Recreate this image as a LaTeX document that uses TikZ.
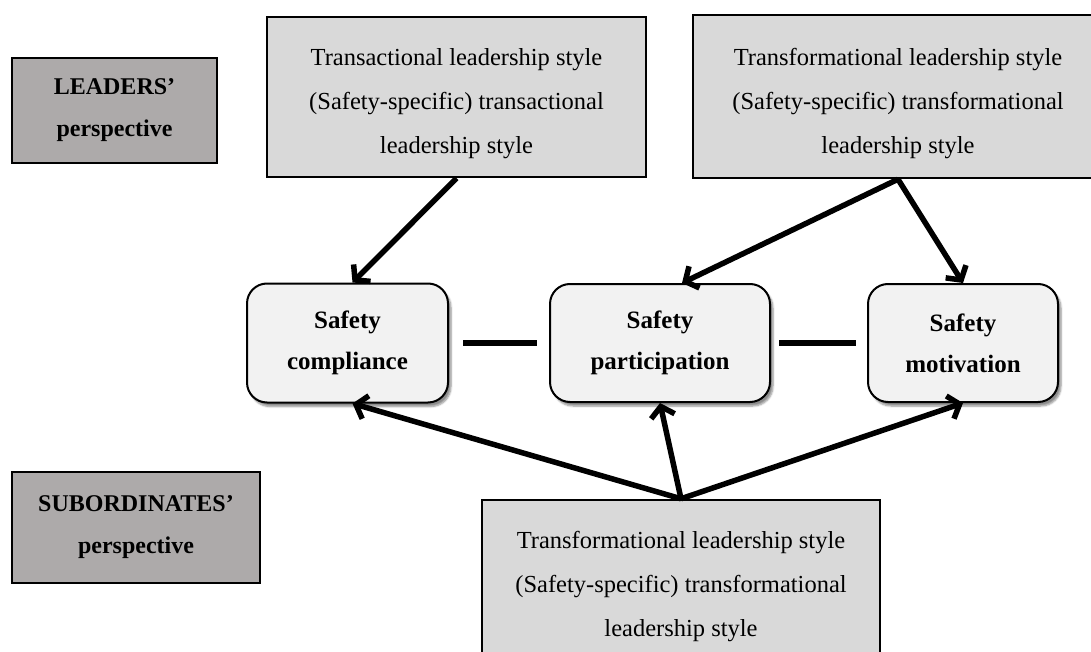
\documentclass[tikz,border=0pt]{standalone}
\IfFileExists{pplr8t.tfm}{\usepackage[T1]{fontenc}\renewcommand{\rmdefault}{ppl}}{\usepackage{fontspec}\setmainfont{Liberation Serif}}
\usetikzlibrary{arrows.meta,shadows.blur,calc}
\definecolor{perspgray}{HTML}{ADAAAA}
\definecolor{boxgray}{HTML}{D9D9D9}
\definecolor{outfill}{HTML}{F2F2F2}
\begin{document}
\begin{tikzpicture}[x=1pt,y=-1pt,
  persp/.style={draw=black,line width=2.5pt,fill=perspgray,align=center,font=\fontsize{24}{42}\selectfont\bfseries,inner sep=0pt},
  stylebox/.style={draw=black,line width=2.5pt,fill=boxgray,align=center,font=\fontsize{24.5}{44}\selectfont,inner sep=0pt},
  outcome/.style={draw=black,line width=2pt,fill=outfill,rounded corners=20pt,align=center,font=\fontsize{25}{41}\selectfont\bfseries,inner sep=0pt,blur shadow={shadow xshift=3pt,shadow yshift=-4pt,shadow blur steps=6,shadow opacity=45}},
  link/.style={line width=5.5pt,-{Straight Barb[length=10pt,width=24pt]}},
  bar/.style={line width=6pt}]
\useasboundingbox (0,0) rectangle (1091,652);
\clip (0,0) rectangle (1091,652);
\node[persp, minimum width=205pt, minimum height=105pt] (lead) at (114.5,110.5) {LEADERS'\\perspective};
\node[persp, minimum width=248pt, minimum height=111pt] (sub) at (136,527.5) {SUBORDINATES'\\perspective};
\node[stylebox, minimum width=379pt, minimum height=160pt] (tl) at (456.5,97) {\strut Transactional leadership style\\(Safety-specific) transactional\\leadership style};
\node[stylebox, minimum width=410pt, minimum height=163pt] (tr) at (898,96.5) {\strut Transformational leadership style\\(Safety-specific) transformational\\leadership style};
\node[stylebox, minimum width=398pt, minimum height=160pt] (bt) at (681,580) {\strut Transformational leadership style\\(Safety-specific) transformational\\leadership style};
\node[outcome, minimum width=201pt, minimum height=119pt] (comp) at (347.5,343) {Safety\\compliance};
\node[outcome, minimum width=220pt, minimum height=118pt] (part) at (660,343) {Safety\\participation};
\node[outcome, minimum width=190pt, minimum height=118pt] (mot) at (963,343) {Safety\\motivation};
\draw[bar] ($(comp.east)+(14,0)$) -- ($(part.west)+(-12,0)$);
\draw[bar] ($(part.east)+(8,0)$) -- ($(mot.west)+(-11,0)$);
\draw[link] (tl.south) -- ($(comp.north)+(5,0)$);
\draw[link] (tr.south) -- ($(part.north)+(22,0)$);
\draw[link] (tr.south) -- (mot.north);
\draw[link] (bt.north) -- ($(comp.south)+(5,0)$);
\draw[link] (bt.north) -- (part.south);
\draw[link] (bt.north) -- (mot.south);
\end{tikzpicture}
\end{document}
